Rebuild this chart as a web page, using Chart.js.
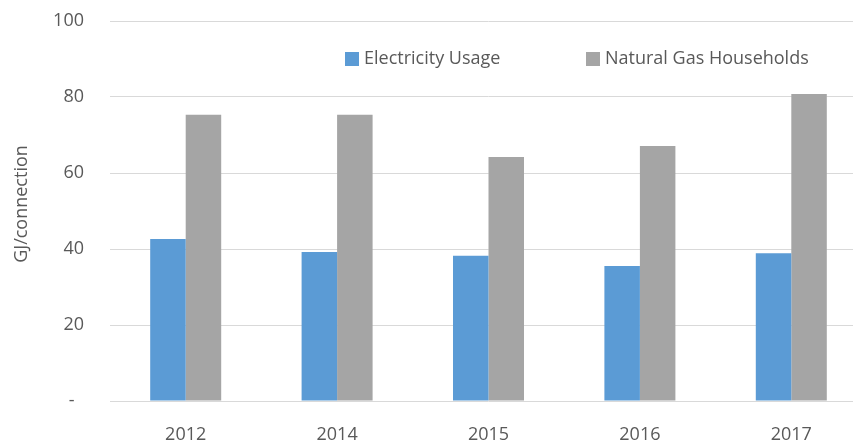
<!DOCTYPE html>
<html>
<head>
<meta charset="utf-8">
<script src="https://cdn.jsdelivr.net/npm/chart.js@4.4.0/dist/chart.umd.min.js"></script>
<style>
  html, body { margin: 0; padding: 0; background: #fff; overflow: hidden; }
  #wrap { position: relative; width: 867px; height: 443px; }
</style>
</head>
<body>
<div id="wrap"><canvas id="myChart"></canvas></div>
<script>
var years = ["2012", "2014", "2015", "2016", "2017"];
var electricity = [42.6, 39.2, 38.2, 35.5, 38.9];
var naturalGas = [75.3, 75.3, 64.2, 67.1, 80.8];
var seriesNames = ["Electricity Usage", "Natural Gas Households"];
var yTicks = [0, 20, 40, 60, 80, 100];

var FONT = "'Open Sans', sans-serif";
var TEXT = "#595959";

// legend sits inside the plot, top right like the original
var insideLegend = {
  id: "insideLegend",
  afterDraw: function (chart) {
    var ctx = chart.ctx;
    var spots = [345, 586];
    ctx.save();
    ctx.font = "18px " + FONT;
    ctx.textBaseline = "middle";
    chart.data.datasets.forEach(function (ds, i) {
      var x = spots[i];
      ctx.fillStyle = ds.backgroundColor;
      ctx.fillRect(x, 52, 14, 14);
      ctx.fillStyle = TEXT;
      ctx.fillText(ds.label, x + 19, 59);
    });
    ctx.restore();
  }
};

var ctx = document.getElementById("myChart").getContext("2d");
var myChart = new Chart(ctx, {
  type: "bar",
  data: {
    labels: years,
    datasets: [
      { label: seriesNames[0], data: electricity, backgroundColor: "#5b9bd5" },
      { label: seriesNames[1], data: naturalGas, backgroundColor: "#a5a5a5" }
    ]
  },
  options: {
    responsive: true,
    maintainAspectRatio: false,
    animation: false,
    layout: { padding: { top: 21, right: 0, bottom: 0, left: 0 } },
    datasets: { bar: { categoryPercentage: 0.469, barPercentage: 1.0 } },
    plugins: {
      legend: { display: false },
      tooltip: { enabled: false }
    },
    scales: {
      x: {
        grid: { display: false },
        border: { display: false },
        ticks: { color: TEXT, font: { family: FONT, size: 18 }, padding: 15 },
        afterFit: function (s) { s.height = 42; }
      },
      y: {
        min: 0,
        max: 100,
        afterBuildTicks: function (s) { s.ticks = yTicks.map(function (v) { return { value: v }; }); },
        grid: { color: "#d9d9d9", lineWidth: 1, drawTicks: false },
        border: { display: false },
        ticks: {
          color: TEXT,
          font: { family: FONT, size: 18 },
          padding: 26,
          callback: function (v) { return v === 0 ? "-  " : v; }
        },
        title: {
          display: true,
          text: "   GJ/connection",
          color: TEXT,
          font: { family: FONT, size: 18 },
          padding: { top: 11, bottom: 0 }
        },
        afterFit: function (s) {
          s.width = 110;
          s.paddingTop = 0;
          s.paddingBottom = 0;
        }
      }
    }
  },
  plugins: [insideLegend]
});
</script>
</body>
</html>
